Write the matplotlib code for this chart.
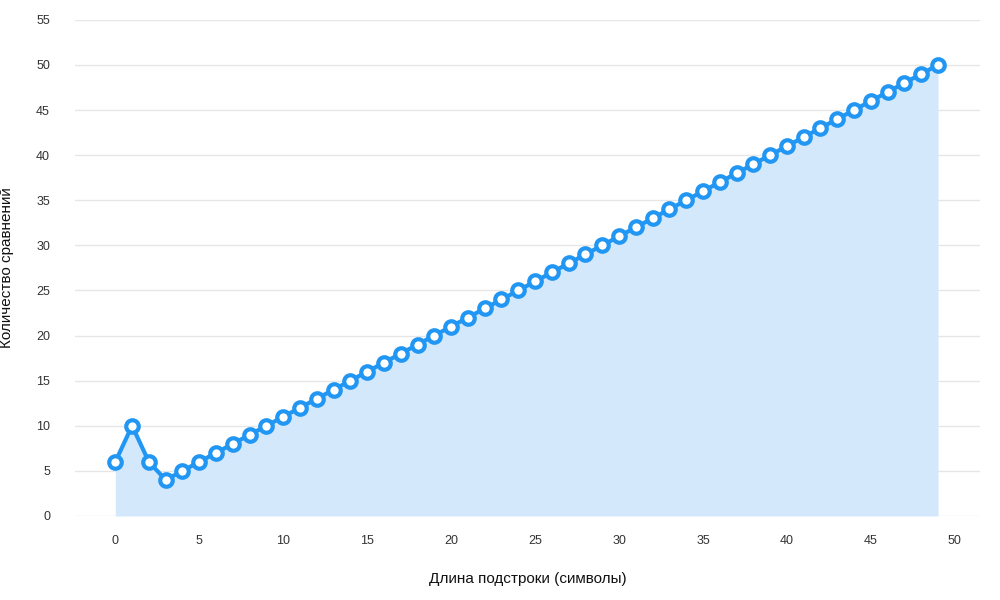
import matplotlib
matplotlib.use("Agg")
import matplotlib.pyplot as plt

lengths = list(range(50))
comparisons = [6, 10, 6, 4] + [n + 1 for n in range(4, 50)]

plt.rcParams['font.family'] = ['Liberation Sans', 'DejaVu Sans']

fig = plt.figure(figsize=(10, 6), dpi=100)
ax = fig.add_axes([0.075, 0.14, 0.905, 0.827])

ax.fill_between(lengths, comparisons, 0, color='#d3e8fb', linewidth=0, zorder=1)
ax.plot(lengths, comparisons, color='#2196f3', linewidth=3, zorder=3,
        marker='o', markersize=9, markerfacecolor='white',
        markeredgecolor='#2196f3', markeredgewidth=3)

ax.set_xlim(-2.4, 51.5)
ax.set_ylim(0, 55)
ax.set_xticks(range(0, 51, 5))
ax.set_yticks(range(0, 56, 5))
ax.grid(axis='y', color='#e6e6e6', linewidth=1, zorder=0)
ax.set_axisbelow(True)
for s in ax.spines.values():
    s.set_visible(False)
ax.tick_params(length=0, labelsize=9, colors='#333333', pad=14)
ax.tick_params(axis='y', pad=18)

ax.set_xlabel('Длина подстроки (символы)', fontsize=11, labelpad=18, color='#111111')
ax.set_ylabel('Количество сравнений', fontsize=11, labelpad=16, color='#111111')

fig.savefig('out.png')
